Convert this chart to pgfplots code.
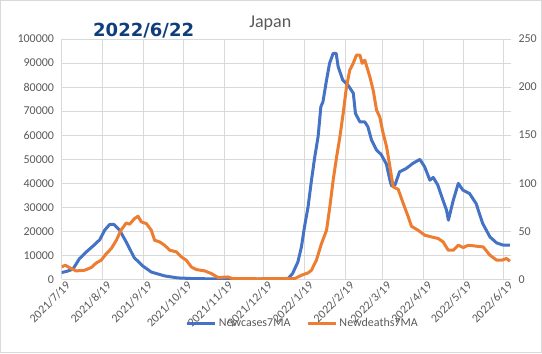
\documentclass[border=0pt]{standalone}
\usepackage{pgfplots}
\pgfplotsset{compat=1.18}
\usepackage{fontspec}
\setmainfont{Carlito}
\newfontfamily\datefont{DejaVu Sans}
\definecolor{cblue}{RGB}{68,114,196}
\definecolor{corange}{RGB}{237,125,49}
\definecolor{txtgray}{RGB}{89,89,89}
\definecolor{gridgray}{RGB}{217,217,217}
\definecolor{datecol}{RGB}{16,62,122}
\pgfplotsset{
  common/.style={
    scale only axis, width=449bp, height=240bp,
    xmin=0, xmax=340.4,
    axis line style={draw=none},
    tick style={draw=none},
    ticklabel style={font=\fontsize{12bp}{13bp}\selectfont, text=txtgray},
  }
}
\begin{document}
\begin{tikzpicture}
\begin{axis}[common, name=ax,
  ymin=0, ymax=100000,
  ytick={0,10000,...,100000},
  scaled y ticks=false,
  yticklabel style={/pgf/number format/fixed, /pgf/number format/1000 sep={}, /pgf/number format/assume math mode=true},
  yticklabel shift=4bp,
  xtick={0,31,62,92,123,153,184,215,243,274,304,335},
  xticklabels={2021/7/19,2021/8/19,2021/9/19,2021/10/19,2021/11/19,2021/12/19,2022/1/19,2022/2/19,2022/3/19,2022/4/19,2022/5/19,2022/6/19},
  xticklabel style={rotate=45, anchor=east, xshift=5bp, yshift=-8bp},
  xmajorgrids, ymajorgrids,
  major grid style={gridgray, line width=0.75bp},
]
\addplot[cblue, line width=3bp, line join=round] coordinates {
(0,2800) (4,3300) (8.6,4200) (13.6,8600) (20,12000) (24,13900) (29,16500) (32.6,20400) (36.4,22800) (39.7,22800) (44,20400) (49,15500) (55,9000) (61.6,5500) (68,3000) (78,1400) (88,550) (101,250) (120,150) (150,100) (171.6,300) (175,2400) (179,7200) (181.7,13500) (184,21800) (186.7,30100) (189.3,41250) (191.8,51000) (194.3,59300) (196.4,71800) (198,73900) (200.7,82900) (203,89900) (205.7,94000) (208,94000) (209.5,88500) (213,82900) (217,80800) (221,77400) (222.6,69000) (226,65500) (229.7,65500) (232,63500) (234.8,57900) (238.6,53750) (242,52000) (246,48000) (248.7,41250) (250,38800) (252.5,39200) (256,44700) (261,46100) (266,48200) (271.4,49900) (275,46800) (279,41250) (281.5,42400) (285,39200) (288,34300) (291.6,28750) (293,24600) (296.7,32900) (300.5,39900) (304,37100) (309,35700) (314,31500) (319,23200) (324.5,17600) (329.6,15100) (334.6,14200) (339.5,14200)
};
\end{axis}
\begin{axis}[common,
  ymin=0, ymax=250,
  ytick={0,50,...,250},
  axis y line*=right, axis x line=none,
  yticklabel style={/pgf/number format/assume math mode=true},
  yticklabel shift=4bp,
  legend style={draw=none, fill=none, at={(0.537,-0.183)}, anchor=center,
    font=\fontsize{12bp}{13bp}\selectfont, text=txtgray,
    /tikz/every even column/.append style={column sep=14bp}},
  legend columns=2,
  legend image code/.code={\draw[#1] (0bp,0bp) -- (28bp,0bp);},
]
\addlegendimage{cblue, line width=3bp}
\addlegendentry{Newcases7MA}
\addplot[corange, line width=3bp, line join=round] coordinates {
(0,12.8) (2.8,14.6) (7.3,11.1) (11,8.7) (17.4,9.4) (22.5,12.2) (26.3,17) (30,19.8) (34,26.8) (37.7,32) (41.5,40.6) (45,51) (49,58.6) (51.6,57.3) (55.3,63.2) (57.9,65.6) (60.4,59.7) (64.2,58) (68,51) (70.5,40.6) (74.3,38.9) (78,35.4) (82,30.2) (87,28.5) (90.8,23.2) (94.5,19.8) (98.3,12.8) (102,10.1) (108.4,8.7) (113.5,5.9) (118.5,1.8) (126,2.4) (129.6,0.7) (150,0.5) (176.6,0.7) (181.7,4.2) (186.7,6.6) (189.3,9.4) (190.5,12.8) (193,19.8) (196.9,37.2) (200.7,51) (203.2,75.3) (205.7,103) (208.3,127) (210.8,148) (213.3,172.6) (215.8,200) (218.3,217.7) (220.9,224.7) (223.4,233.3) (226,233.3) (227.7,224.7) (229.7,228) (233.5,210.7) (236,196.9) (238.6,176) (241,169) (243.6,151.8) (246.2,137.8) (248.7,117) (251.2,96.1) (255,93.5) (258.8,78.9) (262.6,64.9) (265,55.2) (270,51) (275.2,45.8) (280.3,44) (285.3,42.4) (289,38.9) (292.9,30.2) (296.7,30.2) (300.5,35.4) (304.3,33) (308,35.4) (314.4,34.4) (319.4,33.6) (324.5,25) (329.6,19.8) (333.4,19.8) (337,21.6) (339.6,18.75)
};
\addlegendentry{Newdeaths7MA}
\end{axis}
\node[font=\fontsize{18bp}{20bp}\selectfont, text=txtgray, anchor=base] at ([shift={(-16bp,11.3bp)}]ax.north) {Japan};
\node[font=\datefont\bfseries\fontsize{18bp}{20bp}\selectfont, text=datecol] at ([shift={(82bp,8bp)}]ax.north west) {2022/6/22};
\draw[gridgray, line width=1bp] ([shift={(-61bp,-73.5bp)}]ax.south west) rectangle ([shift={(30.5bp,38.5bp)}]ax.north east);
\end{tikzpicture}
\end{document}
